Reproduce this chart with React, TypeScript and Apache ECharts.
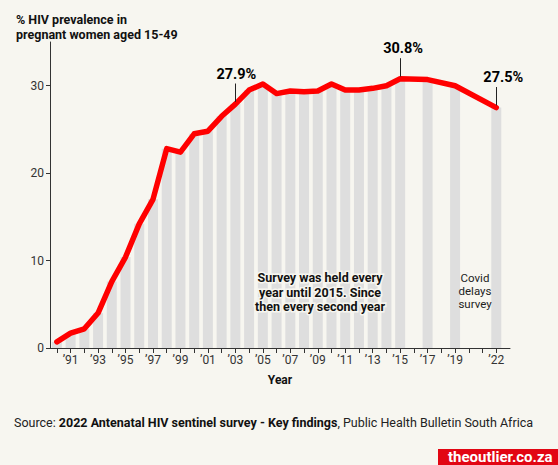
import React, { useEffect, useRef } from "react";
import * as echarts from "echarts";

// Survey years and % HIV prevalence among pregnant women aged 15-49
const YEARS = [
  1990, 1991, 1992, 1993, 1994, 1995, 1996, 1997, 1998, 1999, 2000, 2001, 2002,
  2003, 2004, 2005, 2006, 2007, 2008, 2009, 2010, 2011, 2012, 2013, 2014, 2015,
  2017, 2019, 2022,
];
const PREVALENCE = [
  0.7, 1.7, 2.2, 4.0, 7.6, 10.4, 14.2, 17.0, 22.8, 22.4, 24.5, 24.8, 26.5, 27.9,
  29.5, 30.2, 29.1, 29.4, 29.3, 29.4, 30.2, 29.5, 29.5, 29.7, 30.0, 30.8, 30.7,
  30.0, 27.5,
];
const HIGHLIGHT_YEARS = [2003, 2015, 2022];

// Axis ticks and labels
const Y_TICKS = [0, 10, 20, 30];
const X_TICK_YEARS = [
  1990, 1991, 1992, 1993, 1994, 1995, 1996, 1997, 1998, 1999, 2000, 2001, 2002,
  2003, 2004, 2005, 2006, 2007, 2008, 2009, 2010, 2011, 2012, 2013, 2014, 2015,
  2016, 2017, 2018, 2019, 2020, 2021, 2022,
];
const X_LABEL_YEARS = [
  1991, 1993, 1995, 1997, 1999, 2001, 2003, 2005, 2007, 2009, 2011, 2013, 2015,
  2017, 2019, 2022,
];

const TITLE = "% HIV prevalence in\npregnant women aged 15-49";
const NOTE_SURVEY = "Survey was held every\nyear until 2015. Since\nthen every second year";
const NOTE_COVID = "Covid\ndelays\nsurvey";
const SOURCE_PRE = "Source: ";
const SOURCE_BOLD = "2022 Antenatal HIV sentinel survey - Key findings";
const SOURCE_POST = ", Public Health Bulletin South Africa";
const LOGO = "theoutlier.co.za";

const BG = "#f7f6f0";
const FONT = "Roboto, 'Noto Sans', sans-serif";

export default function App() {
  const ref = useRef<HTMLDivElement>(null);

  useEffect(() => {
    document.body.style.margin = "0";
    document.body.style.background = BG;
    if (!ref.current) return;
    const chart = echarts.init(ref.current, undefined, { renderer: "svg" });

    const points = YEARS.map((y, i) => [y, PREVALENCE[i]]);
    const labelOffsets = [[1, 0], [3, 0], [7, 0]];
    const leaders = HIGHLIGHT_YEARS.map((y, i) => {
      const v = PREVALENCE[YEARS.indexOf(y)];
      return [
        { coord: [y, v + 0.25], value: v, label: { offset: labelOffsets[i] } },
        { coord: [y, v + 2.35], value: v },
      ];
    });

    chart.setOption({
      animation: false,
      backgroundColor: BG,
      title: {
        text: TITLE,
        left: 11,
        top: 7,
        textStyle: {
          fontFamily: FONT,
          fontSize: 12.5,
          fontWeight: "bold",
          lineHeight: 15,
          color: "#111",
        },
      },
      grid: { left: 50, right: 48, top: 42, bottom: 117, outerBoundsMode: "none" },
      xAxis: {
        type: "value",
        min: 1989.5,
        max: 2023,
        splitLine: { show: false },
        axisLine: { show: true, lineStyle: { color: "#333", width: 1 } },
        axisTick: {
          show: true,
          length: 5,
          customValues: X_TICK_YEARS,
          lineStyle: { color: "#333" },
        },
        axisLabel: {
          customValues: X_LABEL_YEARS,
          formatter: (v: number) => "\u2019" + String(v).slice(2),
          fontFamily: FONT,
          fontSize: 12,
          color: "#333",
          margin: 6,
        },
        name: "Year",
        nameLocation: "middle",
        nameGap: 26,
        nameTextStyle: {
          fontFamily: FONT,
          fontSize: 12,
          fontWeight: "bold",
          color: "#111",
        },
      },
      yAxis: {
        type: "value",
        min: 0,
        max: 35,
        interval: 10,
        splitLine: { show: false },
        axisLine: { show: true, lineStyle: { color: "#333", width: 1 } },
        axisTick: {
          show: true,
          length: 4,
          customValues: Y_TICKS,
          lineStyle: { color: "#333" },
        },
        axisLabel: {
          customValues: Y_TICKS,
          fontFamily: FONT,
          fontSize: 12,
          color: "#333",
          margin: 6,
        },
      },
      series: [
        {
          type: "bar",
          data: points,
          barWidth: 10,
          itemStyle: { color: "#dedede" },
          silent: true,
          z: 1,
        },
        {
          type: "line",
          data: points,
          symbol: "none",
          lineStyle: { color: "#ff0000", width: 5.5, cap: "round", join: "round" },
          silent: true,
          z: 3,
          markLine: {
            silent: true,
            symbol: ["none", "none"],
            precision: 1,
            lineStyle: { color: "#222", width: 1, type: "solid", opacity: 1 },
            emphasis: { disabled: true },
            label: {
              show: true,
              position: "end",
              distance: 2,
              formatter: (prm: any) => Number(prm.value).toFixed(1) + "%",
              fontSize: 14.5,
              fontWeight: "bold",
              fontFamily: FONT,
              color: "#000",
            },
            data: leaders,
          },
        },
      ],
      graphic: [
        {
          type: "text",
          x: 320,
          y: 292,
          z: 10,
          style: {
            text: NOTE_SURVEY,
            font: `bold 12.5px ${FONT}`,
            fill: "#111",
            align: "center",
            verticalAlign: "middle",
            lineHeight: 14.5,
            stroke: BG,
            lineWidth: 3,
          },
        },
        {
          type: "text",
          x: 475,
          y: 291,
          z: 10,
          style: {
            text: NOTE_COVID,
            font: `11.5px ${FONT}`,
            fill: "#222",
            align: "center",
            verticalAlign: "middle",
            lineHeight: 13,
          },
        },
        {
          type: "text",
          x: 14,
          y: 422,
          style: {
            text: `{r|${SOURCE_PRE}}{b|${SOURCE_BOLD}}{r|${SOURCE_POST}}`,
            verticalAlign: "middle",
            rich: {
              r: { fontFamily: FONT, fontSize: 12.5, fill: "#222" },
              b: { fontFamily: FONT, fontSize: 12.5, fontWeight: "bold", fill: "#111" },
            },
          },
        },
        {
          type: "rect",
          shape: { x: 438, y: 449, width: 120, height: 16 },
          style: { fill: "#e20613" },
        },
        {
          type: "text",
          x: 448,
          y: 457,
          style: {
            text: LOGO,
            font: `bold 15px ${FONT}`,
            fill: "#ffffff",
            verticalAlign: "middle",
          },
        },
      ],
    });

    return () => chart.dispose();
  }, []);

  return <div ref={ref} style={{ width: 558, height: 465, background: BG }} />;
}
